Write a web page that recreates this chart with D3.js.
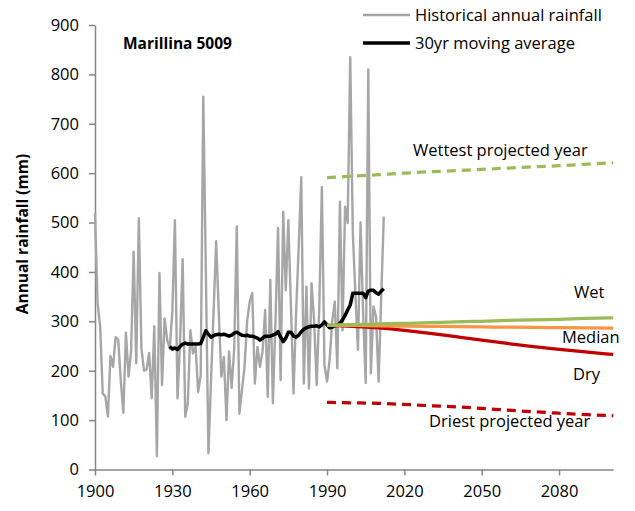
<!DOCTYPE html>
<html>
<head>
<meta charset="utf-8">
<script src="https://cdn.jsdelivr.net/npm/d3@7"></script>
<style>
  html, body { margin: 0; padding: 0; background: #fff; }
  svg { display: block; }
  text { font-family: "Open Sans", "Liberation Sans", sans-serif; fill: #000; }
</style>
</head>
<body>
<svg id="chart" width="635" height="511"></svg>
<script>
// ---- Data ----
const histStartYear = 1900;
const histRainfall = [
  520, 337, 290, 154, 148, 107, 230, 208, 268, 263, // 1900-1909
  180, 115, 277, 188, 240, 441, 215, 509, 245, 200, // 1910-1919
  202, 236, 144, 290, 27, 398, 171, 306, 262, 245,  // 1920-1929
  320, 505, 144, 260, 426, 107, 134, 282, 235, 249, // 1930-1939
  157, 191, 755, 400, 33, 180, 320, 462, 320, 188,  // 1940-1949
  228, 100, 239, 165, 245, 492, 113, 160, 208, 300, // 1950-1959
  340, 357, 174, 248, 208, 240, 323, 147, 384, 134, // 1960-1969
  300, 489, 181, 522, 363, 505, 330, 154, 316, 450, // 1970-1979
  592, 174, 370, 164, 377, 300, 171, 330, 572, 211, // 1980-1989
  178, 222, 300, 340, 205, 542, 282, 532, 499, 835, // 1990-1999
  480, 355, 242, 500, 317, 175, 810, 195, 330, 310, // 2000-2009
  178, 345, 512                                     // 2010-2012
];
const maStartYear = 1929;
const movingAverage = [
  249,                                               // 1929
  244, 246, 243, 249, 254, 256, 254, 254, 254, 254, // 1930-1939
  254, 255, 268, 281, 274, 268, 271, 273, 274, 273, // 1940-1949
  274, 272, 270, 272, 276, 278, 275, 272, 271, 272, // 1950-1959
  270, 270, 268, 266, 262, 266, 270, 270, 270, 272, // 1960-1969
  274, 279, 268, 259, 266, 278, 278, 270, 268, 272, // 1970-1979
  279, 284, 287, 289, 290, 290, 291, 289, 293, 299, // 1980-1989
  293, 287, 288, 291, 292, 296, 303, 312, 323, 333, // 1990-1999
  357, 357, 357, 357, 357, 348, 361, 363, 363, 358, // 2000-2009
  355, 361, 366                                      // 2010-2012
];
const projYears   = [1990, 2000, 2010, 2020, 2030, 2040, 2050, 2060, 2070, 2080, 2090, 2101];
const projWet     = [292, 293, 295, 296, 297, 299, 300, 302, 303, 304, 306, 307];
const projMedian  = [292, 292, 291, 290, 290, 289, 289, 288, 288, 287, 287, 286];
const projDry     = [292, 290, 287, 282, 276, 269, 262, 255, 249, 243, 238, 233];
const projWettest = [591, 594, 597, 600, 603, 605, 608, 610, 613, 615, 618, 621];
const projDriest  = [136, 135, 134, 132, 129, 127, 124, 120, 117, 114, 111, 109];
const xTicks = [1900, 1930, 1960, 1990, 2020, 2050, 2080];
const yTicks = [0, 100, 200, 300, 400, 500, 600, 700, 800, 900];
const chartTitle = "Marillina 5009";
const yAxisTitle = "Annual rainfall (mm)";
const legendLabels = ["Historical annual rainfall", "30yr moving average"];
const scenarioLabels = ["Wettest projected year", "Wet", "Median", "Dry", "Driest projected year"];

// ---- Build ----
const svg = d3.select("#chart");
const x = d3.scaleLinear().domain([1900, 2101]).range([95, 613.2]);
const y = d3.scaleLinear().domain([0, 900]).range([469.5, 25]);

const hist = histRainfall.map((v, i) => ({ yr: histStartYear + i, v }));
const ma = movingAverage.map((v, i) => ({ yr: maStartYear + i, v }));
const proj = arr => arr.map((v, i) => ({ yr: projYears[i], v }));

const line = d3.line().x(d => x(d.yr)).y(d => y(d.v));
const smooth = d3.line().x(d => x(d.yr)).y(d => y(d.v)).curve(d3.curveBasis);

const axisColor = "#868686";

// Axes
const yAxis = svg.append("g").attr("transform", "translate(95,0)")
  .call(d3.axisLeft(y).tickValues(yTicks).tickSize(6).tickPadding(10).tickSizeOuter(0));
const xAxis = svg.append("g").attr("transform", `translate(0,${y(0)})`)
  .call(d3.axisBottom(x).tickValues(xTicks).tickFormat(d3.format("d")).tickSize(6).tickPadding(5).tickSizeOuter(0));
[yAxis, xAxis].forEach(g => {
  g.select(".domain").attr("stroke", axisColor).attr("stroke-width", 1.5);
  g.selectAll(".tick line").attr("stroke", axisColor).attr("stroke-width", 1.5);
  g.selectAll(".tick text").attr("font-family", '"Open Sans", sans-serif').attr("font-size", 16.5).attr("fill", "#000");
});
xAxis.selectAll(".tick text").attr("dy", "1.0em");

// Historical
svg.append("path").datum(hist).attr("d", line)
  .attr("fill", "none").attr("stroke", "#a6a6a6").attr("stroke-width", 2.4).attr("stroke-linejoin", "round");

// Moving average
svg.append("path").datum(ma).attr("d", line)
  .attr("fill", "none").attr("stroke", "#000").attr("stroke-width", 3.5).attr("stroke-linejoin", "round");

// Projections
const projStyles = [
  { data: projDriest, color: "#c00000", dash: "9,6" },
  { data: projWettest, color: "#9bbb59", dash: "9,6" },
  { data: projDry, color: "#c00000" },
  { data: projMedian, color: "#f79646" },
  { data: projWet, color: "#9bbb59" }
];
projStyles.forEach(s => {
  svg.append("path").datum(proj(s.data)).attr("d", smooth)
    .attr("fill", "none").attr("stroke", s.color).attr("stroke-width", 3.25)
    .attr("stroke-dasharray", s.dash || null);
});

// Title
svg.append("text").attr("x", 123).attr("y", 48.5)
  .attr("font-size", 15.5).attr("font-weight", "bold").text(chartTitle);

// Y axis title
svg.append("text").attr("transform", "translate(28,234) rotate(-90)")
  .attr("text-anchor", "middle").attr("font-size", 15.5).attr("font-weight", "bold").text(yAxisTitle);

// Legend
const legColors = ["#a6a6a6", "#000"];
const legWidths = [2.5, 3.5];
[15, 43].forEach((ly, i) => {
  svg.append("line").attr("x1", 363).attr("x2", 410).attr("y1", ly).attr("y2", ly)
    .attr("stroke", legColors[i]).attr("stroke-width", legWidths[i]);
  svg.append("text").attr("x", 415).attr("y", ly + 6).attr("font-size", 16.5).text(legendLabels[i]);
});

// Scenario labels
const labelPos = [[413, 156], [574, 298], [562, 343], [573, 380], [429, 427]];
scenarioLabels.forEach((t, i) => {
  svg.append("text").attr("x", labelPos[i][0]).attr("y", labelPos[i][1]).attr("font-size", 16.5).text(t);
});
</script>
</body>
</html>
